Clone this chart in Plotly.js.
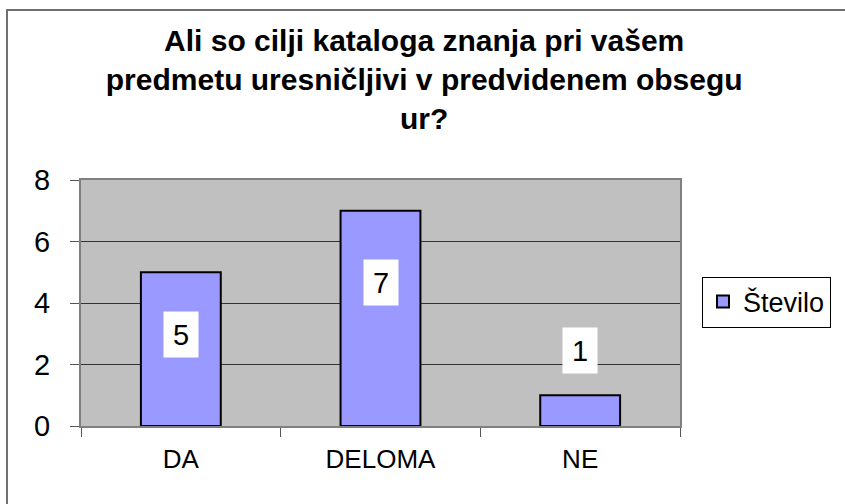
<!DOCTYPE html>
<html>
<head>
<meta charset="utf-8">
<script src="https://cdn.plot.ly/plotly-3.0.1.min.js"></script>
<style>html,body{margin:0;padding:0;background:#fff;}#chart{width:845px;height:504px;}</style>
</head>
<body>
<div id="chart"></div>
<script>
const categories = ['DA', 'DELOMA', 'NE'];
const values = [5, 7, 1];
const seriesName = 'Število';
const yTicks = [0, 2, 4, 6, 8];
const titleText = 'Ali so cilji kataloga znanja pri vašem<br>predmetu uresničljivi v predvidenem obsegu<br>ur?';

// label box centre positions (axis units), as placed in the original
const labelPos = [2.99, 4.67, 2.47];

const FONT = 'Liberation Sans, Arial, sans-serif';

const trace = {
  type: 'bar',
  x: categories,
  y: values,
  name: seriesName,
  width: 0.4,
  marker: {color: '#9999FF', line: {color: '#000000', width: 2}},
  showlegend: true,
  hoverinfo: 'x+y'
};

const annotations = categories.map((c, i) => ({
  x: c, y: labelPos[i], xref: 'x', yref: 'y',
  text: String(values[i]),
  showarrow: false,
  font: {family: FONT, size: 29, color: '#000'},
  bgcolor: '#FFFFFF',
  width: 30, height: 41, borderpad: 2,
  xanchor: 'center', yanchor: 'middle'
}));

const layout = {
  width: 845, height: 504,
  margin: {l: 81, r: 165, t: 180, b: 78},
  paper_bgcolor: '#FFFFFF',
  plot_bgcolor: '#C0C0C0',
  title: {
    text: titleText,
    font: {family: FONT, size: 30, color: '#000', weight: 'bold'},
    x: 0.502, xref: 'container', xanchor: 'center',
    y: 1 - 51/504, yref: 'container', yanchor: 'middle'
  },
  xaxis: {
    type: 'category',
    range: [-0.5, 2.5],
    tickson: 'boundaries',
    ticks: 'outside', ticklen: 9, tickcolor: '#555', tickwidth: 1,
    showline: true, linecolor: '#808080', linewidth: 2, mirror: true,
    showgrid: false,
    tickfont: {family: FONT, size: 26, color: '#000'},
    ticklabelstandoff: 9,
    fixedrange: true
  },
  yaxis: {
    range: [0, 8],
    tickvals: yTicks,
    ticks: 'outside', ticklen: 9, tickcolor: '#555', tickwidth: 1,
    showline: true, linecolor: '#808080', linewidth: 2, mirror: true,
    showgrid: true, gridcolor: '#333333', gridwidth: 1,
    zeroline: false,
    tickfont: {family: FONT, size: 29, color: '#000'},
    ticklabelstandoff: 14,
    fixedrange: true
  },
  legend: {
    x: (702 - 81) / 599, xanchor: 'left',
    y: 0.504, yanchor: 'middle',
    bgcolor: '#FFFFFF', bordercolor: '#000000', borderwidth: 1,
    font: {family: FONT, size: 27, color: '#000'}
  },
  annotations: annotations,
  shapes: [{
    type: 'rect', xref: 'paper', yref: 'paper',
    x0: (7 - 81) / 599, x1: 1.4,
    y0: -0.6, y1: (426 - 10) / 246,
    line: {color: '#707070', width: 2},
    fillcolor: 'rgba(0,0,0,0)',
    layer: 'below'
  }],
  bargap: 0.6
};

Plotly.newPlot('chart', [trace], layout, {displayModeBar: false, staticPlot: true});
</script>
</body>
</html>
